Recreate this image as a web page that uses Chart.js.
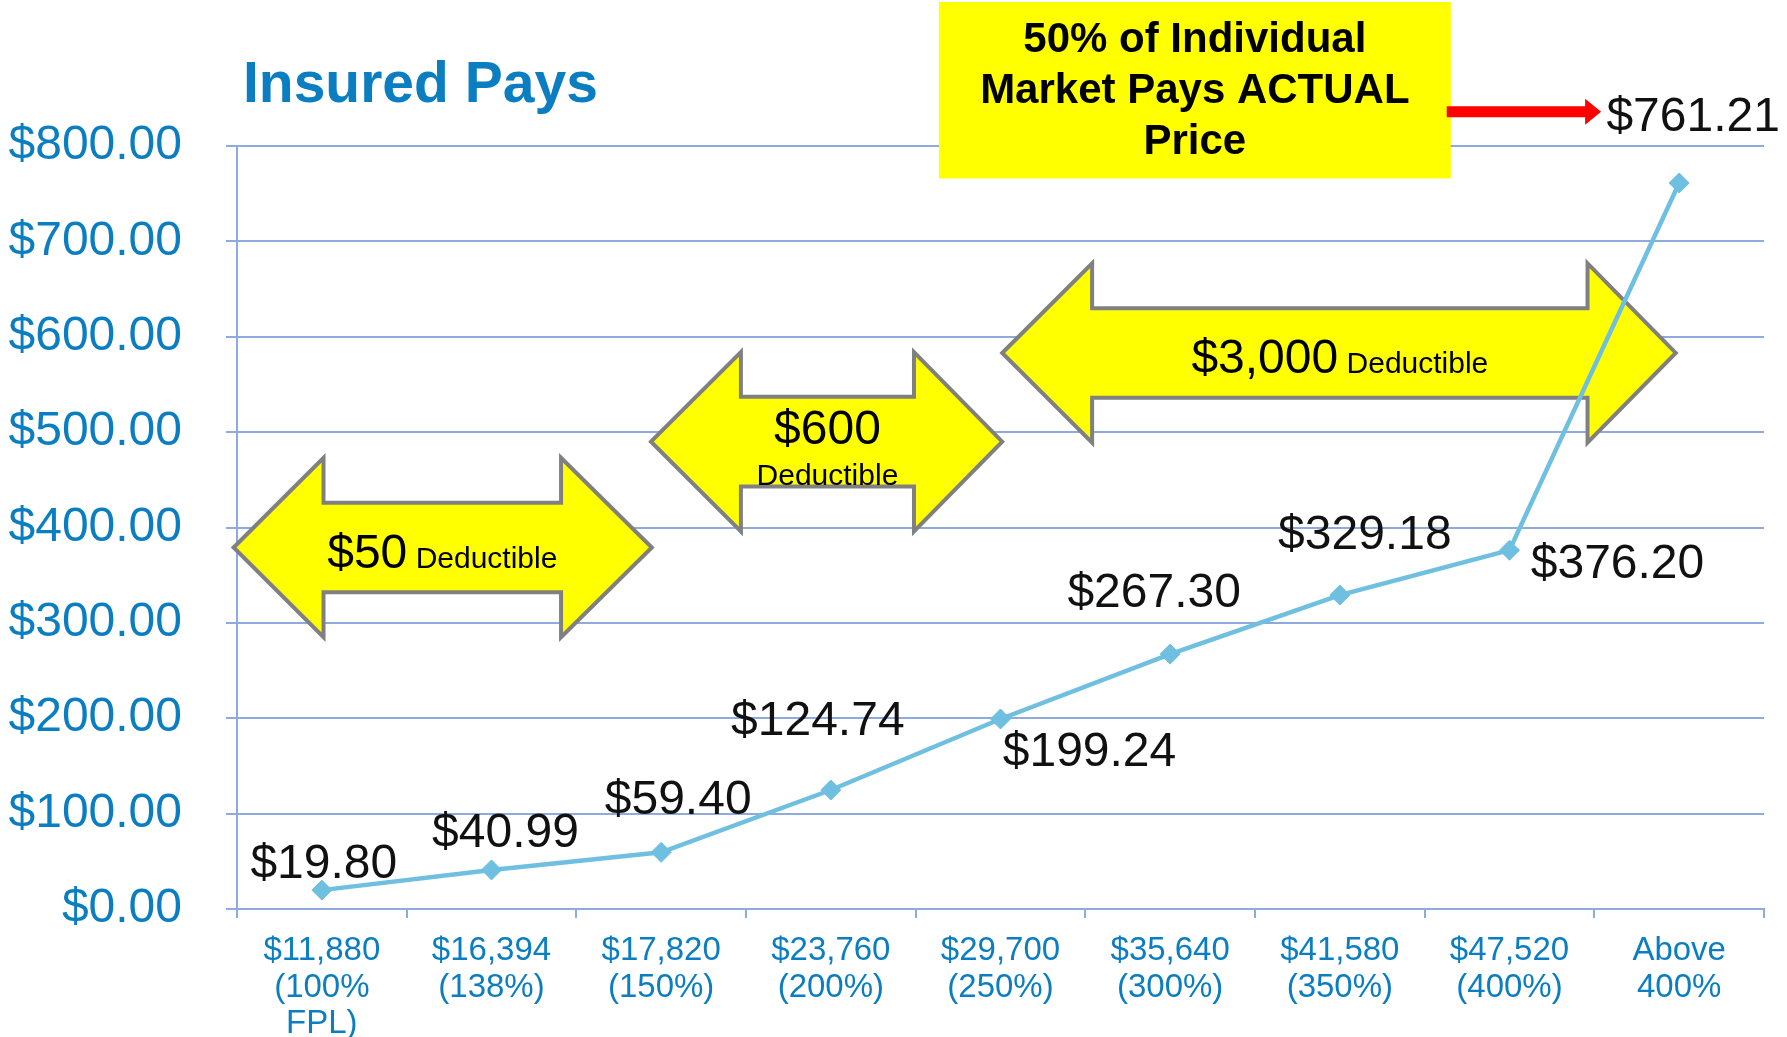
<!DOCTYPE html>
<html>
<head>
<meta charset="utf-8">
<title>Insured Pays</title>
<script src="https://cdn.jsdelivr.net/npm/chart.js@4.4.1/dist/chart.umd.min.js"></script>
<style>
  html, body { margin: 0; padding: 0; background: #ffffff; }
  #wrap { width: 1787px; height: 1037px; }
</style>
</head>
<body>
<div id="wrap"><canvas id="payChart" width="1787" height="1037"></canvas></div>
<script>
// data
const categories = [
  ['$11,880', '(100%', 'FPL)'],
  ['$16,394', '(138%)'],
  ['$17,820', '(150%)'],
  ['$23,760', '(200%)'],
  ['$29,700', '(250%)'],
  ['$35,640', '(300%)'],
  ['$41,580', '(350%)'],
  ['$47,520', '(400%)'],
  ['Above', '400%']
];
const insuredPays = [19.80, 40.99, 59.40, 124.74, 199.24, 267.30, 329.18, 376.20, 761.21];
const yMin = 0;
const yMax = 800;
const yStep = 100;

const chartTitle = 'Insured Pays';
const calloutLines = ['50% of Individual', 'Market Pays ACTUAL', 'Price'];
const deductibleAmounts = ['$50', '$600', '$3,000'];
const deductibleWord = 'Deductible';

// styling
const FONT = "'Liberation Sans', Arial, Helvetica, sans-serif";
const BLUE_TEXT = '#0B7EC1';
const GRID = '#8FAADC';
const LINE = '#6FBFE1';

// label offsets (px) from each point: [dx, dy]
const labelOffsets = [[2, -25], [14, -36], [17, -52], [-13, -68], [89, 34], [-16, -60], [25, -59], [108, 15], [14, -65]];

// double arrows placed in axis units (category index / dollars)
const arrowShapes = [
  { tipL: -0.52, baseL: 0.01, baseR: 1.41, tipR: 1.945, cy: 379, shaft: 47, head: 94, layout: 'inline' },
  { tipL: 1.94, baseL: 2.47, baseR: 3.49, tipR: 4.01, cy: 490, shaft: 47, head: 94, layout: 'stacked' },
  { tipL: 4.01, baseL: 4.54, baseR: 7.46, tipR: 7.98, cy: 583, shaft: 47, head: 94, layout: 'inline' }
];
const calloutBox = { x0: 3.637, x1: 6.654, y0: 951, y1: 766 };
const redArrow = { x0: 6.63, x1: 7.54, y: 836 };

function fmtMoney(v) {
  return '$' + v.toFixed(2);
}

const decorPlugin = {
  id: 'decor',
  beforeDatasetsDraw(chart) {
    const ctx = chart.ctx;
    const xs = chart.scales.x;
    const ys = chart.scales.y;
    const px = v => xs.getPixelForValue(v);
    const py = v => ys.getPixelForValue(v);
    const unitY = py(0) - py(1);

    ctx.save();
    // deductible arrows
    arrowShapes.forEach((a, i) => {
      const tl = px(a.tipL), bl = px(a.baseL), br = px(a.baseR), tr = px(a.tipR);
      const cy = py(a.cy), sh = a.shaft * unitY, hh = a.head * unitY;
      ctx.beginPath();
      ctx.moveTo(tl, cy);
      ctx.lineTo(bl, cy - hh);
      ctx.lineTo(bl, cy - sh);
      ctx.lineTo(br, cy - sh);
      ctx.lineTo(br, cy - hh);
      ctx.lineTo(tr, cy);
      ctx.lineTo(br, cy + hh);
      ctx.lineTo(br, cy + sh);
      ctx.lineTo(bl, cy + sh);
      ctx.lineTo(bl, cy + hh);
      ctx.closePath();
      ctx.fillStyle = '#FFFF00';
      ctx.fill();
      ctx.lineWidth = 4;
      ctx.lineJoin = 'miter';
      ctx.strokeStyle = '#808080';
      ctx.stroke();

      const mid = (bl + br) / 2;
      ctx.fillStyle = '#000000';
      ctx.textBaseline = 'alphabetic';
      if (a.layout === 'inline') {
        ctx.font = '48px ' + FONT;
        const w1 = ctx.measureText(deductibleAmounts[i]).width;
        ctx.font = '30px ' + FONT;
        const w2 = ctx.measureText(' ' + deductibleWord).width;
        const start = mid - (w1 + w2) / 2;
        ctx.textAlign = 'left';
        ctx.font = '48px ' + FONT;
        ctx.fillText(deductibleAmounts[i], start, cy + 20);
        ctx.font = '30px ' + FONT;
        ctx.fillText(' ' + deductibleWord, start + w1, cy + 20);
      } else {
        ctx.textAlign = 'center';
        ctx.font = '48px ' + FONT;
        ctx.fillText(deductibleAmounts[i], mid, cy + 2);
        ctx.font = '30px ' + FONT;
        ctx.fillText(deductibleWord, mid, cy + 43);
      }
    });

    // callout box
    const bx0 = px(calloutBox.x0), bx1 = px(calloutBox.x1);
    const by0 = py(calloutBox.y0), by1 = py(calloutBox.y1);
    ctx.fillStyle = '#FFFF00';
    ctx.fillRect(bx0, by0, bx1 - bx0, by1 - by0);
    ctx.fillStyle = '#000000';
    ctx.font = 'bold 42px ' + FONT;
    ctx.textAlign = 'center';
    ctx.textBaseline = 'middle';
    const bmid = (bx0 + bx1) / 2;
    calloutLines.forEach((t, k) => {
      ctx.fillText(t, bmid, by0 + 38 + k * 51);
    });

    // red arrow
    const rx0 = px(redArrow.x0), rx1 = px(redArrow.x1), ry = py(redArrow.y);
    ctx.fillStyle = '#FF0000';
    ctx.beginPath();
    ctx.moveTo(rx0, ry - 5.5);
    ctx.lineTo(rx1 - 16, ry - 5.5);
    ctx.lineTo(rx1 - 16, ry - 13);
    ctx.lineTo(rx1, ry);
    ctx.lineTo(rx1 - 16, ry + 13);
    ctx.lineTo(rx1 - 16, ry + 5.5);
    ctx.lineTo(rx0, ry + 5.5);
    ctx.closePath();
    ctx.fill();

    // title
    ctx.fillStyle = BLUE_TEXT;
    ctx.font = 'bold 57px ' + FONT;
    ctx.textAlign = 'left';
    ctx.textBaseline = 'alphabetic';
    ctx.fillText(chartTitle, 243, 102);
    ctx.restore();
  },
  afterDatasetsDraw(chart) {
    const ctx = chart.ctx;
    const meta = chart.getDatasetMeta(0);
    ctx.save();
    ctx.fillStyle = '#111111';
    ctx.textAlign = 'center';
    ctx.textBaseline = 'middle';
    ctx.font = '48px ' + FONT;
    meta.data.forEach((pt, i) => {
      const off = labelOffsets[i];
      ctx.fillText(fmtMoney(insuredPays[i]), pt.x + off[0], pt.y + off[1]);
    });
    ctx.restore();
  }
};

const ctx = document.getElementById('payChart');
new Chart(ctx, {
  type: 'line',
  data: {
    labels: categories,
    datasets: [{
      label: chartTitle,
      data: insuredPays,
      borderColor: LINE,
      backgroundColor: LINE,
      borderWidth: 4.5,
      pointStyle: 'rectRot',
      pointRadius: 10,
      pointBorderWidth: 1,
      pointBorderColor: LINE,
      pointBackgroundColor: LINE,
      tension: 0,
      fill: false
    }]
  },
  options: {
    responsive: false,
    devicePixelRatio: 1,
    animation: false,
    layout: { padding: { top: 146, right: 23, left: 0, bottom: 0 } },
    plugins: {
      legend: { display: false },
      title: { display: false },
      tooltip: { enabled: false }
    },
    scales: {
      x: {
        offset: true,
        grid: {
          offset: true,
          drawOnChartArea: false,
          drawTicks: true,
          tickLength: 9,
          color: GRID,
          lineWidth: 2
        },
        border: { display: true, color: GRID, width: 2 },
        ticks: {
          autoSkip: false,
          maxRotation: 0,
          minRotation: 0,
          padding: 15,
          color: BLUE_TEXT,
          font: { family: FONT, size: 33, lineHeight: 1.1 }
        },
        afterFit(scale) { scale.height = 128; }
      },
      y: {
        min: yMin,
        max: yMax,
        grid: {
          color: GRID,
          lineWidth: 2,
          tickLength: 11
        },
        border: { display: true, color: GRID, width: 2 },
        ticks: {
          stepSize: yStep,
          padding: 44,
          color: BLUE_TEXT,
          font: { family: FONT, size: 48 },
          callback: v => fmtMoney(v)
        },
        afterFit(scale) { scale.width = 237; }
      }
    }
  },
  plugins: [decorPlugin]
});
</script>
</body>
</html>
